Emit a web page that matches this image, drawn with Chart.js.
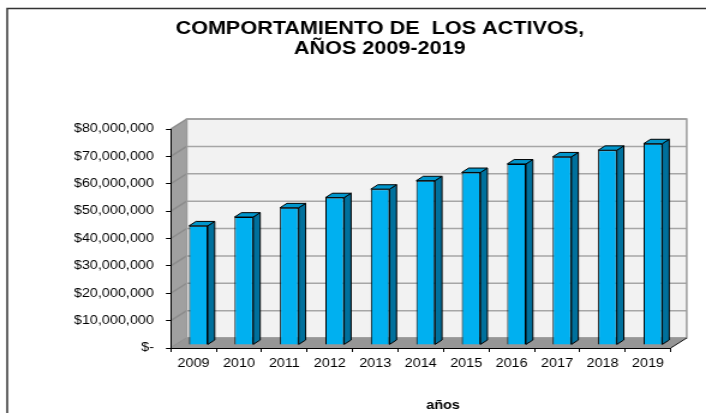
<!DOCTYPE html>
<html>
<head>
<meta charset="utf-8">
<script src="https://cdn.jsdelivr.net/npm/chart.js@4"></script>
<style>
  html, body { margin: 0; padding: 0; background: #fff; overflow: hidden; }
  /* the original picture is an Excel chart stretched sideways, so draw narrow and stretch */
  #chart { display: block; transform: scaleX(1.2007); transform-origin: 0 0; }
</style>
</head>
<body>
<canvas id="chart" width="588" height="413"></canvas>
<script>
const years = ['2009', '2010', '2011', '2012', '2013', '2014', '2015', '2016', '2017', '2018', '2019'];
const activos = [43500000, 46700000, 50100000, 53800000, 56900000, 60000000, 63000000, 66100000, 68700000, 71100000, 73500000];
const yTicks = [0, 10000000, 20000000, 30000000, 40000000, 50000000, 60000000, 70000000, 80000000];
const titleLines = ['COMPORTAMIENTO DE  LOS ACTIVOS,', 'AÑOS 2009-2019'];
const xTitle = 'años';

const FONT = 'Liberation Sans, Arial, sans-serif';

// depth of the 3D box and of the bars
const DX = 13.3, DY = -10;
const BAR_DX = 4.1, BAR_DY = -3.1;
const BAR_DEPTH_X = 5.8, BAR_DEPTH_Y = -4.4;

function poly(ctx, pts, fill, stroke) {
    ctx.beginPath();
    ctx.moveTo(pts[0][0], pts[0][1]);
    pts.slice(1).forEach(p => ctx.lineTo(p[0], p[1]));
    ctx.closePath();
    if (fill) { ctx.fillStyle = fill; ctx.fill(); }
    if (stroke) { ctx.strokeStyle = stroke; ctx.stroke(); }
}

const box3d = {
    id: 'box3d',
    afterLayout(chart) {
        // centre the title the way the original does, not over the whole canvas
        const t = chart.titleBlock;
        if (t) { t.left = 74; t.right = 558.6; t.width = t.right - t.left; }
    },
    beforeDraw(chart) {
        const { ctx, chartArea: a, scales: { y } } = chart;
        ctx.save();

        // frame of the picture
        ctx.strokeStyle = '#333';
        ctx.lineWidth = 1.5;
        ctx.beginPath();
        ctx.moveTo(6, 413);
        ctx.lineTo(6, 8.5);
        ctx.lineTo(588, 8.5);
        ctx.stroke();

        // walls and floor
        ctx.lineWidth = 1;
        poly(ctx, [[a.left, a.bottom], [a.left, a.top], [a.left + DX, a.top + DY], [a.left + DX, a.bottom + DY]], '#a0a0a0');
        ctx.fillStyle = '#f2f2f2';
        ctx.fillRect(a.left + DX, a.top + DY, a.width, a.height);

        ctx.lineWidth = 1.5;
        yTicks.forEach(v => {
            const py = y.getPixelForValue(v);
            ctx.strokeStyle = '#a6a6a6';
            ctx.beginPath();
            ctx.moveTo(a.left + DX, py + DY);
            ctx.lineTo(a.right + DX, py + DY);
            ctx.stroke();
            ctx.strokeStyle = '#8c8c8c';
            ctx.beginPath();
            ctx.moveTo(a.left, py);
            ctx.lineTo(a.left + DX, py + DY);
            ctx.stroke();
        });
        ctx.strokeStyle = '#9a9a9a';
        ctx.strokeRect(a.left + DX, a.top + DY, a.width, a.height);

        ctx.lineWidth = 1;
        poly(ctx, [[a.left, a.bottom], [a.right, a.bottom], [a.right + DX, a.bottom + DY], [a.left + DX, a.bottom + DY]], '#969696');
        ctx.strokeStyle = '#111';
        ctx.beginPath();
        ctx.moveTo(a.right, a.bottom);
        ctx.lineTo(a.right + DX, a.bottom + DY);
        ctx.stroke();
        ctx.restore();
    },
    beforeDatasetsDraw(chart) {
        chart.ctx.save();
        chart.ctx.translate(BAR_DX, BAR_DY);
    },
    afterDatasetsDraw(chart) {
        const ctx = chart.ctx;
        ctx.lineWidth = 1;
        chart.getDatasetMeta(0).data.forEach(bar => {
            const { x, y, base, width } = bar.getProps(['x', 'y', 'base', 'width'], true);
            const l = x - width / 2, r = x + width / 2;
            poly(ctx, [[r, y], [r + BAR_DEPTH_X, y + BAR_DEPTH_Y], [r + BAR_DEPTH_X, base + BAR_DEPTH_Y], [r, base]], '#00709c', '#000');
            poly(ctx, [[l, y], [l + BAR_DEPTH_X, y + BAR_DEPTH_Y], [r + BAR_DEPTH_X, y + BAR_DEPTH_Y], [r, y]], '#0096cc', '#000');
        });
        ctx.restore();

        // axis title, centred under the whole box like Excel does
        ctx.save();
        ctx.fillStyle = '#000';
        ctx.font = 'bold 12px ' + FONT;
        ctx.textAlign = 'center';
        ctx.textBaseline = 'alphabetic';
        ctx.fillText(xTitle, 369, 409);
        ctx.restore();
    }
};

new Chart(document.getElementById('chart'), {
    type: 'bar',
    data: {
        labels: years,
        datasets: [{
            data: activos,
            backgroundColor: '#00b0f0',
            borderColor: '#000',
            borderWidth: 1,
            categoryPercentage: 1,
            barPercentage: 0.412
        }]
    },
    options: {
        responsive: false,
        animation: false,
        layout: { padding: { left: 0, right: 29.4, top: 0, bottom: 0 } },
        plugins: {
            legend: { display: false },
            tooltip: { enabled: false },
            title: {
                display: true,
                text: titleLines,
                color: '#000',
                font: { family: FONT, size: 18, weight: 'bold', lineHeight: 20 / 18 },
                padding: { top: 19, bottom: 70 }
            }
        },
        scales: {
            x: {
                afterFit(scale) { scale.height = 65; },
                grid: { drawOnChartArea: false, tickLength: 4, color: '#000' },
                border: { color: '#000' },
                ticks: { color: '#000', font: { family: FONT, size: 12 }, padding: 4 }
            },
            y: {
                min: 0,
                max: 80000000,
                afterFit(scale) { scale.width = 142.2; },
                afterBuildTicks(scale) { scale.ticks = yTicks.map(v => ({ value: v })); },
                grid: { drawOnChartArea: false, tickLength: 4, color: '#000' },
                border: { color: '#000' },
                ticks: {
                    color: '#000',
                    font: { family: FONT, size: 12 },
                    padding: 10,
                    callback: v => v === 0 ? '$-' : '$' + v.toLocaleString('en-US')
                }
            }
        }
    },
    plugins: [box3d]
});
</script>
</body>
</html>
